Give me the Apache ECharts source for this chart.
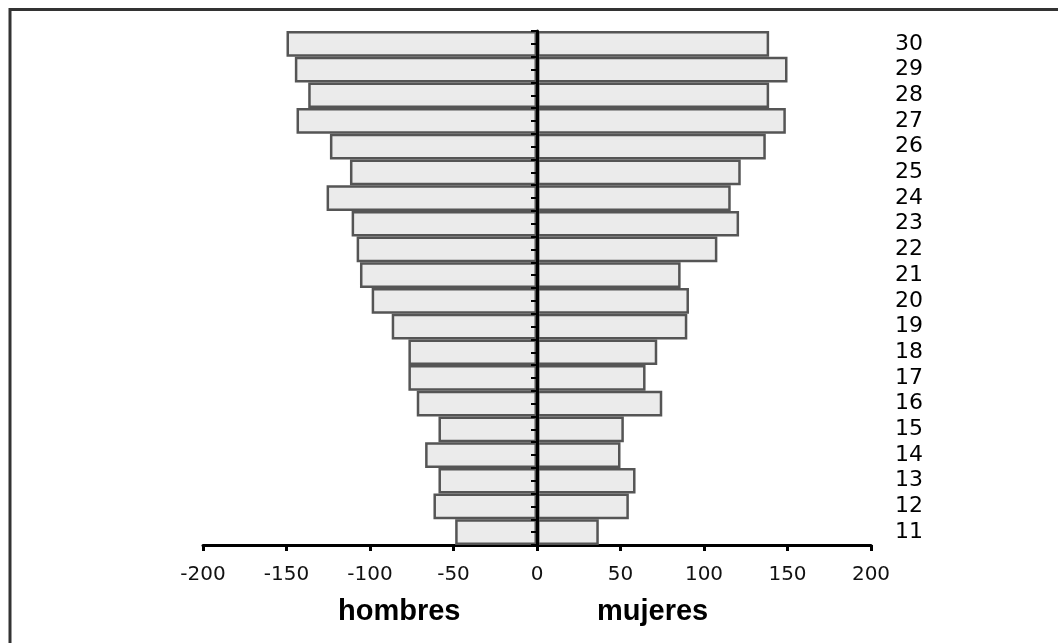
<!DOCTYPE html>
<html>
<head>
<meta charset="utf-8">
<script src="https://cdn.jsdelivr.net/npm/echarts@6/dist/echarts.min.js"></script>
<style>
  html, body { margin: 0; padding: 0; background: #fff; }
  #piramide { width: 1058px; height: 643px; }
</style>
</head>
<body>
<div id="piramide"></div>
<script>
// edades de abajo hacia arriba
var edades = ["11", "12", "13", "14", "15", "16", "17", "18", "19", "20",
              "21", "22", "23", "24", "25", "26", "27", "28", "29", "30"];
var hombres = [49, 62, 59, 67, 59, 72, 77, 77, 87, 99,
               106, 108, 111, 126, 112, 124, 144, 137, 145, 150];
var mujeres = [37, 55, 59, 50, 52, 75, 65, 72, 90, 91,
               86, 108, 121, 116, 122, 137, 149, 139, 150, 139];
var ejeX = [-200, -150, -100, -50, 0, 50, 100, 150, 200];

var myChart = echarts.init(document.getElementById("piramide"));

var option = {
  backgroundColor: "#fff",
  animation: false,
  grid: { left: 203, right: 187, top: 31, bottom: 98, outerBoundsMode: "none" },
  xAxis: [
    {
      type: "value",
      min: ejeX[0],
      max: ejeX[ejeX.length - 1],
      interval: 50,
      splitLine: { show: false },
      axisLine: { show: true, lineStyle: { color: "#000", width: 3 } },
      axisTick: { show: true, length: 6, lineStyle: { color: "#000", width: 3 } },
      axisLabel: {
        margin: 20,
        color: "#111",
        fontFamily: "DejaVu Sans",
        fontSize: 20
      }
    },
    {
      // copia oculta, solo sirve para colocar el tercer eje y en el cero
      type: "value",
      position: "top",
      min: ejeX[0],
      max: ejeX[ejeX.length - 1],
      interval: 50,
      show: false
    }
  ],
  yAxis: [
    {
      // eje central con marcas en los limites de las barras
      type: "category",
      data: edades,
      position: "left",
      z: 10,
      axisLine: { onZero: true, lineStyle: { color: "#000", width: 3 } },
      axisTick: { show: true, length: 6, lineStyle: { color: "#000", width: 2 } },
      axisLabel: { show: false }
    },
    {
      // etiquetas de edad a la derecha
      type: "category",
      data: edades,
      position: "right",
      axisLine: { show: false, onZero: false },
      axisTick: { show: false },
      axisLabel: {
        interval: 0,
        margin: 24,
        align: "left",
        color: "#000",
        fontFamily: "DejaVu Sans",
        fontSize: 22
      }
    },
    {
      // marcas en el centro de cada barra
      type: "category",
      data: edades,
      position: "left",
      z: 10,
      axisLine: { show: false, onZero: true, onZeroAxisIndex: 1 },
      axisTick: {
        show: true,
        alignWithLabel: true,
        length: 6,
        lineStyle: { color: "#000", width: 2 }
      },
      axisLabel: { show: false }
    }
  ],
  series: [
    {
      name: "hombres",
      type: "bar",
      stack: "total",
      barCategoryGap: 0,
      data: hombres.map(function (v) { return -v; }),
      itemStyle: { color: "#ebebeb", borderColor: "#555", borderWidth: 2.5 }
    },
    {
      name: "mujeres",
      type: "bar",
      stack: "total",
      barCategoryGap: 0,
      data: mujeres,
      itemStyle: { color: "#ebebeb", borderColor: "#555", borderWidth: 2.5 }
    }
  ],
  graphic: [
    {
      type: "rect",
      shape: { x: 10, y: 9.5, width: 1200, height: 800 },
      style: { fill: "none", stroke: "#333", lineWidth: 3 },
      silent: true
    },
    {
      type: "text",
      left: 338,
      top: 597,
      style: {
        text: "hombres",
        fill: "#000",
        font: "bold 29px 'Liberation Sans'"
      }
    },
    {
      type: "text",
      left: 597,
      top: 597,
      style: {
        text: "mujeres",
        fill: "#000",
        font: "bold 29px 'Liberation Sans'"
      }
    }
  ]
};

myChart.setOption(option);
</script>
</body>
</html>
